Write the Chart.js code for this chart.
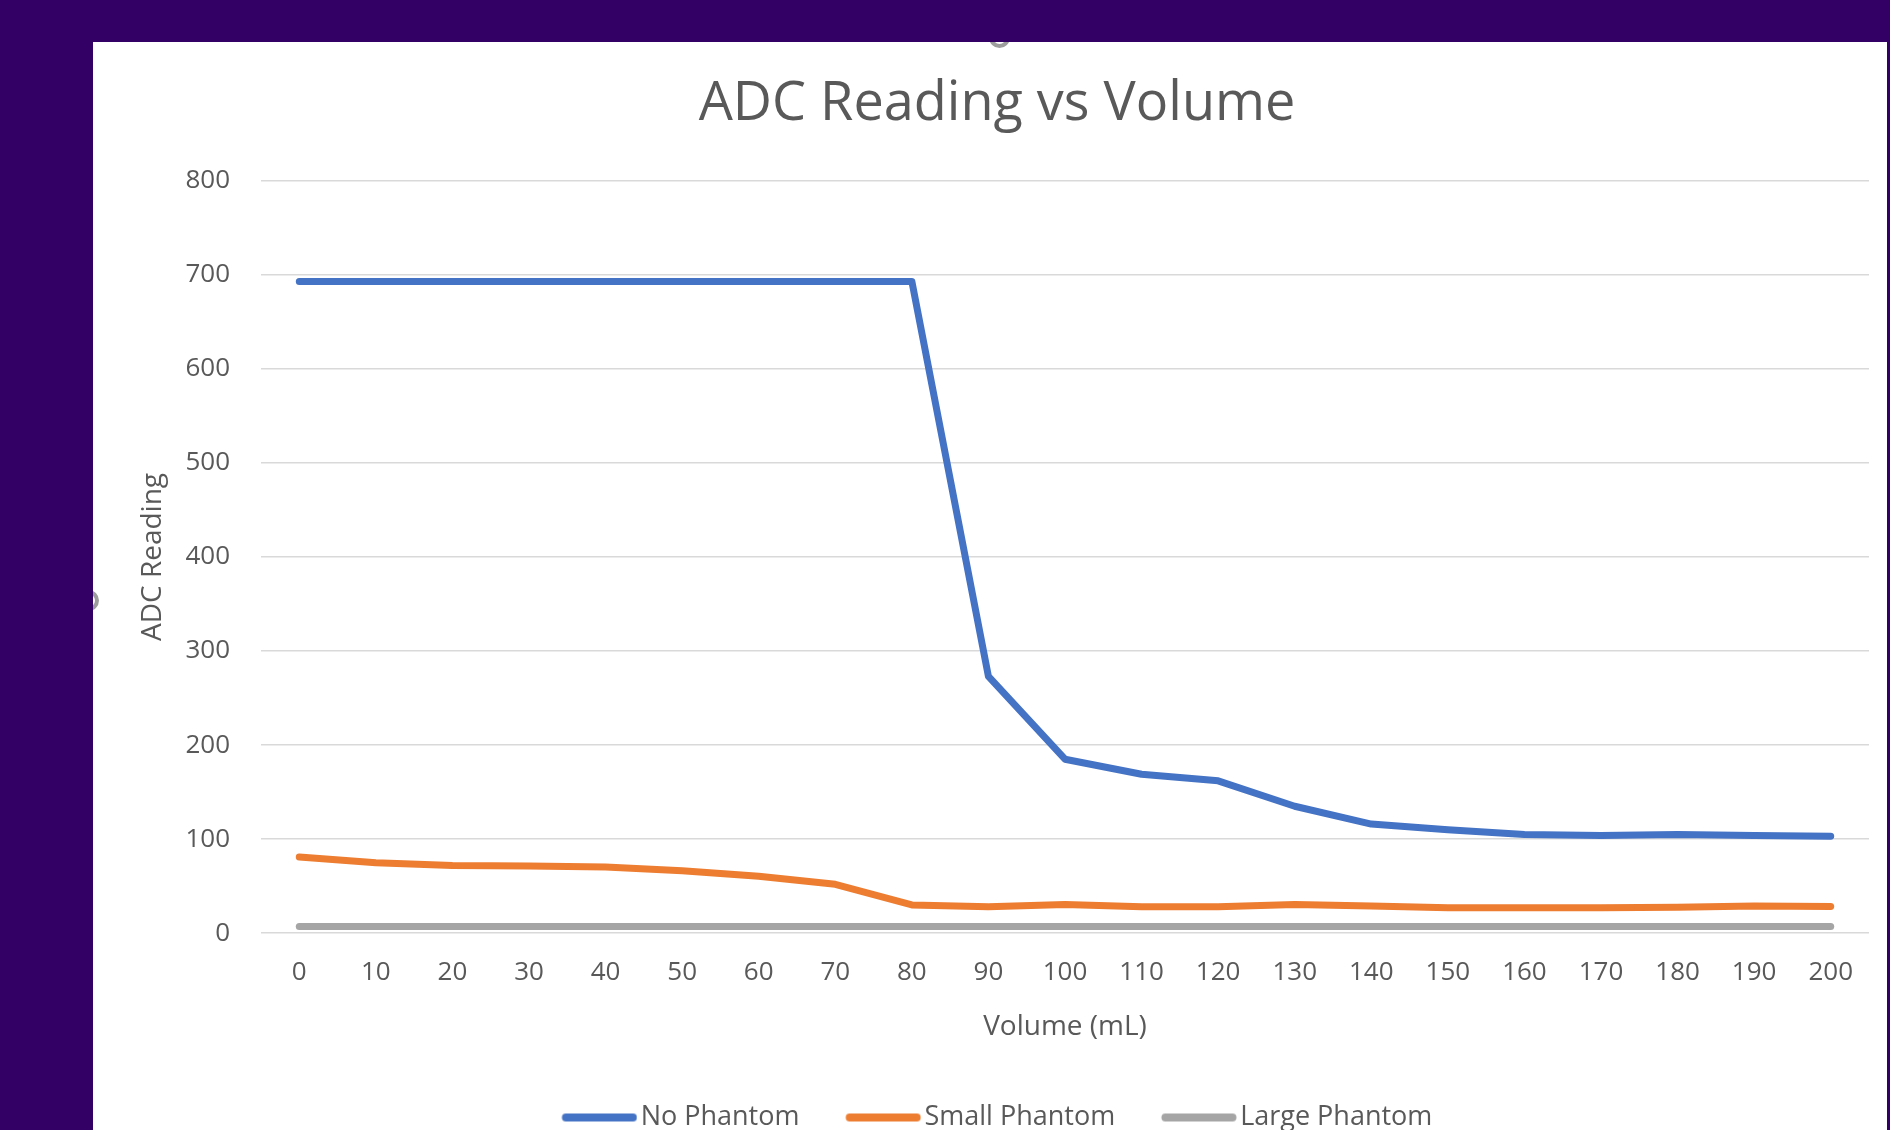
<!DOCTYPE html>
<html>
<head>
<meta charset="utf-8">
<title>ADC Reading vs Volume</title>
<script src="https://cdn.jsdelivr.net/npm/chart.js@4.4.0/dist/chart.umd.min.js"></script>
<style>
    html, body { margin: 0; padding: 0; background: #330066; overflow: hidden; width: 1890px; height: 1130px; }
    #panel { position: absolute; left: 93px; top: 42px; width: 1794px; height: 1100px; background: #ffffff; overflow: hidden; }
    #panel canvas { display: block; position: relative; }
    /* bits of the slide behind the chart that peek out at the edges */
    .scrap { position: absolute; width: 13px; height: 13px; border: 4px solid #9d9d9d; border-radius: 50%; }
</style>
</head>
<body>
<div id="panel">
    <div class="scrap" style="left: 896px; top: -15px;"></div>
    <div class="scrap" style="left: -15px; top: 548px;"></div>
    <canvas id="adcChart" width="1794" height="1099"></canvas>
</div>
<script>
// Volume (mL) categories
const volumes = ['0', '10', '20', '30', '40', '50', '60', '70', '80', '90', '100',
                 '110', '120', '130', '140', '150', '160', '170', '180', '190', '200'];

// ADC readings
const noPhantom    = [693, 693, 693, 693, 693, 693, 693, 693, 693, 273, 185, 169, 162, 135, 116, 110, 105, 104, 105, 104, 103];
const smallPhantom = [81, 75, 72, 71.5, 70.5, 66.5, 60.5, 52, 30, 28, 30.5, 28, 28, 30.5, 29, 27, 27, 27, 27.5, 29, 28.5];
const largePhantom = [7, 7, 7, 7, 7, 7, 7, 7, 7, 7, 7, 7, 7, 7, 7, 7, 7, 7, 7, 7, 7];

const textColor = '#595959';
const fontFamily = "'Open Sans', 'DejaVu Sans', sans-serif";

function makeSeries(label, data, color) {
    return {
        label: label,
        data: data,
        borderColor: color,
        backgroundColor: color,
        borderWidth: 7,
        pointRadius: 0,
        pointHoverRadius: 0,
        tension: 0,
        fill: false,
        borderCapStyle: 'round',
        borderJoinStyle: 'round'
    };
}

// Legend marker: a rounded line drawn to a small canvas, used as the point style.
// The line sits off-centre so it starts at the item's left edge and ends close to the text.
function legendLine(color) {
    const c = document.createElement('canvas');
    c.width = 86;
    c.height = 10;
    const g = c.getContext('2d');
    g.strokeStyle = color;
    g.lineWidth = 8;
    g.lineCap = 'round';
    g.beginPath();
    g.moveTo(14.5, 5);
    g.lineTo(81.5, 5);
    g.stroke();
    return c;
}

const chartData = {
    labels: volumes,
    datasets: [
        makeSeries('No Phantom', noPhantom, '#4472C4'),
        makeSeries('Small Phantom', smallPhantom, '#ED7D31'),
        makeSeries('Large Phantom', largePhantom, '#A5A5A5')
    ]
};

const config = {
    type: 'line',
    data: chartData,
    options: {
        responsive: false,
        animation: false,
        layout: {
            padding: { left: 32, right: 18, top: 0, bottom: 0 }
        },
        scales: {
            x: {
                offset: true,
                grid: { display: false, drawTicks: false },
                border: { display: false },
                ticks: {
                    color: textColor,
                    font: { family: fontFamily, size: 26 },
                    padding: 24,
                    maxRotation: 0,
                    autoSkip: false
                },
                title: {
                    display: true,
                    text: 'Volume (mL)',
                    color: textColor,
                    font: { family: fontFamily, size: 28 },
                    padding: { top: -2.4, bottom: 14.4 }
                }
            },
            y: {
                min: 0,
                max: 800,
                grid: { color: '#D9D9D9', lineWidth: 1.5, drawTicks: false },
                border: { display: false },
                ticks: {
                    stepSize: 100,
                    color: textColor,
                    font: { family: fontFamily, size: 26 },
                    padding: 31
                },
                title: {
                    display: true,
                    text: 'ADC Reading',
                    color: textColor,
                    font: { family: fontFamily, size: 28 },
                    padding: { top: 11, bottom: 0 }
                },
                afterFit: function(scale) {
                    scale.width = 136;
                }
            }
        },
        plugins: {
            title: {
                display: true,
                text: 'ADC Reading vs Volume',
                color: textColor,
                font: { family: fontFamily, size: 54, weight: 'normal' },
                padding: { top: 30.4, bottom: 43.6 }
            },
            legend: {
                position: 'bottom',
                labels: {
                    color: textColor,
                    font: { family: fontFamily, size: 27 },
                    usePointStyle: true,
                    pointStyleWidth: 65.5,
                    boxHeight: 8,
                    padding: 46,
                    generateLabels: function(chart) {
                        return Chart.defaults.plugins.legend.labels.generateLabels(chart)
                            .map(item => Object.assign(item, { pointStyle: legendLine(item.strokeStyle) }));
                    }
                }
            },
            tooltip: { enabled: false }
        }
    }
};

const canvas = document.getElementById('adcChart');
window.adcChart = new Chart(canvas.getContext('2d'), config);
</script>
</body>
</html>
